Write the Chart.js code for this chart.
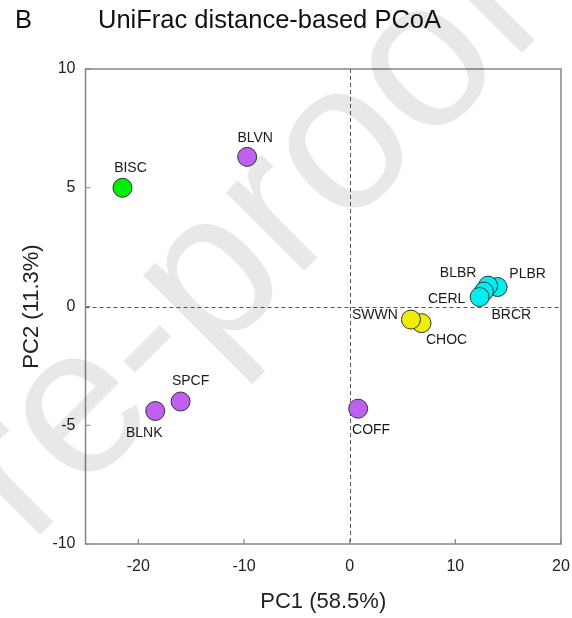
<!DOCTYPE html>
<html><head><meta charset="utf-8">
<script src="https://cdn.jsdelivr.net/npm/chart.js@4"></script>
<style>html,body{margin:0;padding:0;background:#fff}</style>
</head><body>
<canvas id="c" width="572" height="618"></canvas>
<script>
// ---- data ----
const sampleNames = ['BISC','BLVN','SPCF','BLNK','COFF','CHOC','SWWN','PLBR','BLBR','BRCR','CERL'];
const pc1Values   = [-21.5, -9.7, -16.0, -18.4, 0.8, 6.8, 5.8, 14.0, 13.1, 12.7, 12.3];
const pc2Values   = [5.0, 6.3, -4.0, -4.4, -4.3, -0.7, -0.55, 0.82, 0.88, 0.63, 0.4];
const sampleGroup = ['g','p','p','p','p','y','y','c','c','c','c'];
const xTickValues = [-20, -10, 0, 10, 20];
const yTickValues = [-10, -5, 0, 5, 10];
const titleText = 'UniFrac distance-based PCoA';
const panelLetter = 'B';
const xTitle = 'PC1 (58.5%)';
const yTitle = 'PC2 (11.3%)';
const watermarkText = 're-proof';

// ---- styles ----
const groupColor = { g:'#00EE00', p:'#C060F0', y:'#EEEE00', c:'#00EEEE' };
// label offset (text centre relative to point centre, px)
const labelOffset = {
  BISC:[8,-20], BLVN:[8,-19], SPCF:[10,-20], BLNK:[-11,22], COFF:[13,21.5],
  CHOC:[25,17.5], SWWN:[-36,-4], PLBR:[30,-13], BLBR:[-30,-12], BRCR:[27.5,24], CERL:[-33,2]
};
const FONT = '"Liberation Sans", Arial, Helvetica, sans-serif';

const points = sampleNames.map((n,i)=>({x:pc1Values[i], y:pc2Values[i], name:n}));

const decor = {
  id:'decor',
  beforeDatasetsDraw(chart){
    const {ctx, chartArea:a, scales:{x,y}} = chart;
    ctx.save();
    ctx.strokeStyle = '#555'; ctx.lineWidth = 1; ctx.setLineDash([4,3]);
    const x0 = Math.round(x.getPixelForValue(0))+0.5, y0 = Math.round(y.getPixelForValue(0))+0.5;
    ctx.beginPath(); ctx.moveTo(x0,a.top); ctx.lineTo(x0,a.bottom); ctx.stroke();
    ctx.beginPath(); ctx.moveTo(a.left,y0); ctx.lineTo(a.right,y0); ctx.stroke();
    ctx.restore();
  },
  afterDraw(chart){
    const {ctx, chartArea:a, scales:{x,y}} = chart;
    ctx.save();
    // box
    ctx.strokeStyle = '#858585'; ctx.lineWidth = 1.5;
    ctx.strokeRect(a.left, a.top, a.right-a.left, a.bottom-a.top);
    // inward ticks
    ctx.lineWidth = 1.2;
    ctx.beginPath();
    xTickValues.forEach(v=>{ const px = x.getPixelForValue(v); ctx.moveTo(px,a.bottom); ctx.lineTo(px,a.bottom-5); });
    yTickValues.forEach(v=>{ const py = y.getPixelForValue(v); ctx.moveTo(a.left,py); ctx.lineTo(a.left+5,py); });
    ctx.stroke();
    // point labels
    ctx.fillStyle = '#1a1a1a'; ctx.font = '14px '+FONT;
    ctx.textAlign = 'center'; ctx.textBaseline = 'middle';
    points.forEach(p=>{
      const o = labelOffset[p.name];
      ctx.fillText(p.name, x.getPixelForValue(p.x)+o[0], y.getPixelForValue(p.y)+o[1]);
    });
    // titles
    ctx.fillStyle = '#111'; ctx.textAlign = 'left'; ctx.textBaseline = 'alphabetic';
    ctx.font = '25.5px '+FONT;
    ctx.fillText(panelLetter, 15, 28);
    ctx.fillText(titleText, 98, 28);
    // watermark
    ctx.translate(30, 545);
    ctx.rotate(-Math.PI/4);
    ctx.font = '210px '+FONT;
    ctx.fillStyle = 'rgba(0,0,0,0.09)';
    ctx.fillText(watermarkText, 0, 0);
    ctx.restore();
  }
};

new Chart(document.getElementById('c'), {
  type:'scatter',
  data:{ datasets:[{
    data: points,
    pointRadius: 9.5, pointHoverRadius: 9.5,
    pointBackgroundColor: sampleGroup.map(g=>groupColor[g]),
    pointBorderColor: '#333', pointBorderWidth: 1
  }]},
  options:{
    responsive:false, animation:false, devicePixelRatio:1,
    layout:{ padding:{ top:69, right:11, bottom:0, left:0 } },
    plugins:{ legend:{display:false}, title:{display:false}, tooltip:{enabled:false} },
    scales:{
      x:{
        type:'linear', min:-25, max:20,
        afterBuildTicks(s){ s.ticks = xTickValues.map(v=>({value:v})); },
        afterFit(s){ s.height = 74; s.paddingLeft = 0; s.paddingRight = 0; },
        grid:{display:false, drawTicks:false}, border:{display:false},
        ticks:{ color:'#222', padding:13, font:{family:FONT, size:16} },
        title:{ display:true, text:xTitle, color:'#222', font:{family:FONT, size:22}, padding:{top:0,bottom:3} }
      },
      y:{
        type:'linear', min:-10, max:10,
        afterBuildTicks(s){ s.ticks = yTickValues.map(v=>({value:v})); },
        afterFit(s){ s.width = 85.5; s.paddingTop = 0; s.paddingBottom = 0; },
        grid:{display:false, drawTicks:false}, border:{display:false},
        ticks:{ color:'#222', padding:10, font:{family:FONT, size:16} },
        title:{ display:true, text:yTitle, color:'#222', font:{family:FONT, size:22}, padding:{top:19,bottom:0} }
      }
    }
  },
  plugins:[decor]
});
</script>
</body></html>
